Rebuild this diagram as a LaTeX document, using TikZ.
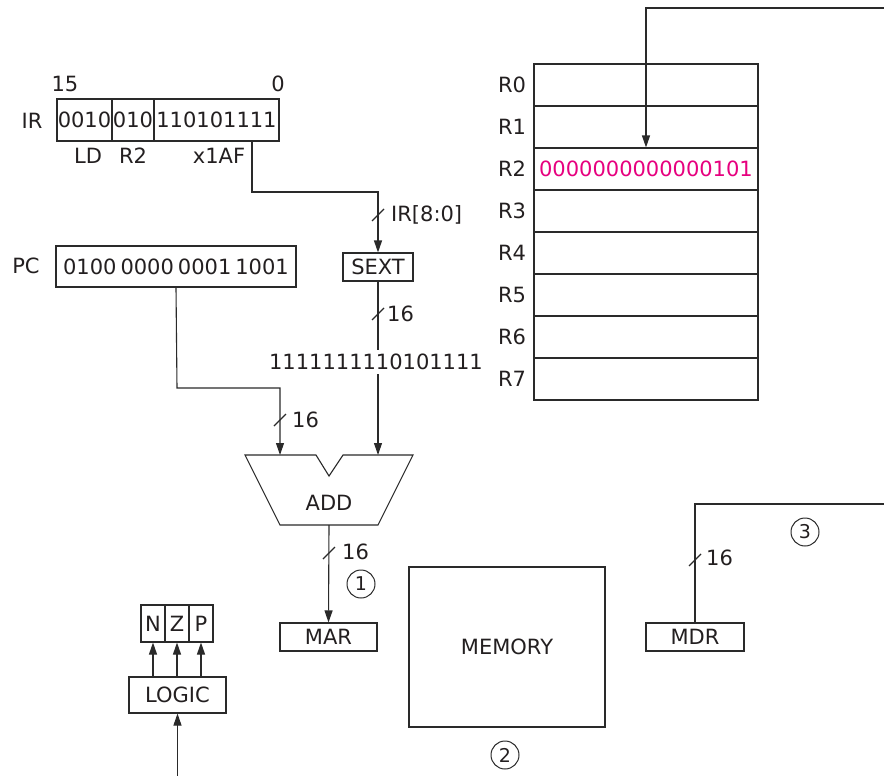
\documentclass[tikz,border=0pt]{standalone}
\usepackage{fontspec}
\setmainfont{DejaVu Sans}
\usetikzlibrary{arrows.meta,calc}
\definecolor{ink}{HTML}{231F20}
\definecolor{lin}{HTML}{2A2A2A}
\definecolor{mag}{HTML}{E6007E}
\tikzset{
  line/.style={draw=lin, line width=1.1pt},
  arr/.style={line, -{Triangle[length=12pt,width=8pt]}},
  box/.style={draw=lin, line width=1.1pt, rectangle, inner sep=0pt, text=ink},
  lbl/.style={inner sep=1pt, text=ink},
  circnum/.style={draw=lin, line width=1pt, circle, minimum size=28pt, inner sep=0pt, text=ink, font=\fontsize{19}{22}\selectfont},
  buswidth/.pic={\draw[line] (-6,6) -- (6,-6);}
}
\begin{document}
\begin{tikzpicture}[x=1pt,y=-1pt, font=\fontsize{21}{25}\selectfont]
\useasboundingbox (0,0) rectangle (884,776);

% ---------- IR ----------
\node[lbl] (irl) at (32,121) {IR};
\node[lbl] (b15) at (65,84) {15};
\node[lbl] (b0) at (278,84) {0};
\node[box, minimum width=55pt, minimum height=42pt] (ir1) at (84.5,120) {0010};
\node[box, minimum width=42pt, minimum height=42pt] (ir2) at (133,120) {010};
\node[box, minimum width=125pt, minimum height=42pt] (ir3) at (216.5,120) {110101111};
\node[lbl] (ld) at (88,156) {LD};
\node[lbl] (irr2) at (133,156) {R2};
\node[lbl] (x1af) at (219,156) {x1AF};

% ---------- SEXT ----------
\node[box, minimum width=70pt, minimum height=28pt] (sext) at (378,267) {SEXT};
\coordinate (irtap) at (252,141);
\coordinate (irbend) at (252,192);
\draw[arr] (irtap) -- (irbend) -| (sext.north);
\pic at (378,215) {buswidth};
\node[lbl, anchor=west] (irlab) at (390,215) {IR[8:0]};

% ---------- PC ----------
\node[lbl] (pcl) at (26,266) {PC};
\node[box, minimum width=240pt, minimum height=41pt] (pc) at (176,266.5) {0100\hspace{4pt}0000\hspace{4pt}0001\hspace{4pt}1001};

% ---------- sign-extended value ----------
\node[inner sep=0pt, minimum height=24pt, text=ink] (sv) at (376,362) {1111111110101111};
\draw[line] (sext.south) -- (sext.south |- sv.north);
\pic at (378,314) {buswidth};
\node[lbl, anchor=west] (l16a) at (386,314) {16};

% ---------- ADD ----------
\coordinate (addinL) at (280,455);
\coordinate (addinR) at (378,455);
\draw[line, fill=white] (245,455) -- (316,455) -- (329,476) -- (343,455) -- (413,455) -- (378,525) -- (280,525) -- cycle;
\node[lbl] (addl) at (329,503) {ADD};
\coordinate (addout) at (329,525);
\coordinate (pcbend) at (177,388);
\draw[arr] (pc.south) -- (pcbend) -| (addinL);
\draw[arr] (addinR |- sv.south) -- (addinR);
\pic at (280,420) {buswidth};
\node[lbl, anchor=west] (l16b) at (291,420) {16};

% ---------- MAR ----------
\node[box, minimum width=97pt, minimum height=28pt] (mar) at (328.5,637) {MAR};
\draw[arr] (addout) -- (mar.north);
\pic at (329,553) {buswidth};
\node[lbl, anchor=west] (l16c) at (341,552) {16};
\node[circnum] (c1) at (361,584) {1};

% ---------- MEMORY ----------
\node[box, minimum width=196pt, minimum height=160pt] (mem) at (507,647) {MEMORY};
\node[circnum] (c2) at (505,755) {2};

% ---------- MDR ----------
\node[box, minimum width=98pt, minimum height=28pt] (mdr) at (695,637) {MDR};
\coordinate (mdrbend) at (695,504);
\coordinate (mdrend) at (884,504);
\draw[line] (mdr.north) -- (mdrbend) -- (mdrend);
\pic at (695,560) {buswidth};
\node[lbl, anchor=west] (l16d) at (705,558) {16};
\node[circnum] (c3) at (805,532) {3};

% ---------- Register file ----------
\foreach \i in {0,...,7} {
  \node[box, minimum width=224pt, minimum height=42pt] (r\i) at (646,{85+42*\i}) {};
  \node[lbl] (rl\i) at (512,{85+42*\i}) {R\i};
}
\node[inner sep=0pt, text=mag] (r2v) at (r2) {0000000000000101};
\coordinate (topend) at (884,8);
\coordinate (topbend) at (646,8);
\draw[arr] (topend) -- (topbend) -- (r2.north);

% ---------- N Z P / LOGIC ----------
\node[box, minimum width=24pt, minimum height=37pt] (nn) at (153,623.5) {N};
\node[box, minimum width=24pt, minimum height=37pt] (zz) at (177,623.5) {Z};
\node[box, minimum width=24pt, minimum height=37pt] (pp) at (201,623.5) {P};
\node[box, minimum width=97pt, minimum height=36pt] (logic) at (177.5,695) {LOGIC};
\draw[arr] (logic.north -| nn.south) -- (nn.south);
\draw[arr] (logic.north -| zz.south) -- (zz.south);
\draw[arr] (logic.north -| pp.south) -- (pp.south);
\coordinate (logicin) at (177.5,776);
\draw[arr] (logicin) -- (logic.south);
\end{tikzpicture}
\end{document}
